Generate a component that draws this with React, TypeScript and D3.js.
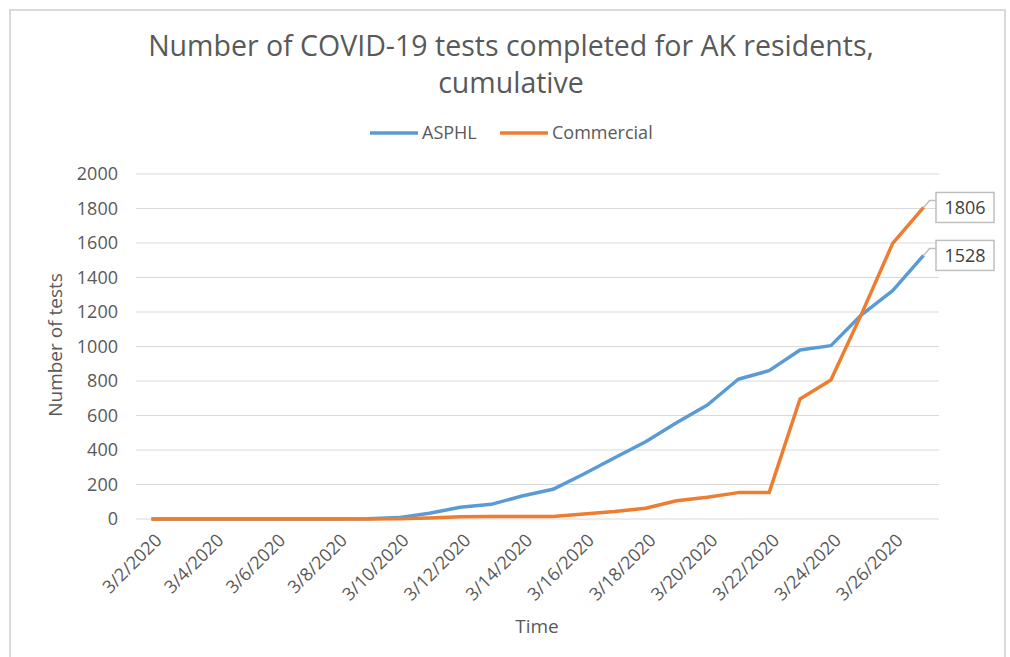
import { useEffect, useRef } from 'react';
import * as d3 from 'd3';

const dates = [
  '3/2/2020', '3/3/2020', '3/4/2020', '3/5/2020', '3/6/2020', '3/7/2020', '3/8/2020',
  '3/9/2020', '3/10/2020', '3/11/2020', '3/12/2020', '3/13/2020', '3/14/2020', '3/15/2020',
  '3/16/2020', '3/17/2020', '3/18/2020', '3/19/2020', '3/20/2020', '3/21/2020', '3/22/2020',
  '3/23/2020', '3/24/2020', '3/25/2020', '3/26/2020', '3/27/2020',
];
const asphl = [0, 0, 0, 0, 0, 0, 0, 2, 8, 33, 68, 85, 133, 172, 261, 355, 448, 558, 661, 810, 860, 980, 1005, 1185, 1324, 1528];
const commercial = [0, 0, 0, 0, 0, 0, 0, 0, 2, 6, 13, 14, 14, 15, 29, 43, 62, 106, 126, 153, 153, 696, 806, 1192, 1598, 1806];
const yTicks = [0, 200, 400, 600, 800, 1000, 1200, 1400, 1600, 1800, 2000];

const FONT = '"Open Sans", sans-serif';
const TEXT = '#595959';
const BLUE = '#5B9BD5';
const ORANGE = '#ED7D31';

export default function App() {
  const svgRef = useRef<SVGSVGElement>(null);

  useEffect(() => {
    if (!svgRef.current) return;
    const svg = d3.select(svgRef.current);
    svg.selectAll('*').remove();

    const left = 136, right = 939, top = 174, bottom = 519;

    // chart frame
    svg.append('rect')
      .attr('x', 10).attr('y', 10).attr('width', 995).attr('height', 660)
      .attr('fill', 'white').attr('stroke', '#d9d9d9').attr('stroke-width', 2);

    const x = d3.scaleBand().domain(dates).range([left, right]);
    const cx = (d: string) => (x(d) as number) + x.bandwidth() / 2;
    const y = d3.scaleLinear().domain([0, 2000]).range([bottom, top]);

    // title
    svg.append('text')
      .attr('x', 511).attr('y', 56)
      .attr('text-anchor', 'middle')
      .attr('fill', TEXT).style('font-family', FONT).style('font-size', '28.5px')
      .text('Number of COVID-19 tests completed for AK residents,');
    svg.append('text')
      .attr('x', 511).attr('y', 93)
      .attr('text-anchor', 'middle')
      .attr('fill', TEXT).style('font-family', FONT).style('font-size', '28.5px')
      .text('cumulative');

    // gridlines
    svg.append('g')
      .selectAll('line')
      .data(yTicks)
      .enter()
      .append('line')
      .attr('x1', left).attr('x2', right)
      .attr('y1', d => y(d)).attr('y2', d => y(d))
      .attr('stroke', '#d9d9d9').attr('stroke-width', 1);

    // y tick labels
    svg.append('g')
      .selectAll('text')
      .data(yTicks)
      .enter()
      .append('text')
      .attr('x', 118).attr('y', d => y(d))
      .attr('dy', '0.35em')
      .attr('text-anchor', 'end')
      .attr('fill', TEXT).style('font-family', FONT).style('font-size', '18px')
      .text(d => `${d}`);

    // x tick labels
    svg.append('g')
      .selectAll('text')
      .data(dates.filter((_, i) => i % 2 === 0))
      .enter()
      .append('text')
      .attr('transform', d => `translate(${cx(d) + 7},${bottom + 18}) rotate(-45)`)
      .attr('dy', '0.35em')
      .attr('text-anchor', 'end')
      .attr('fill', TEXT).style('font-family', FONT).style('font-size', '18px')
      .text(d => d);

    // axis titles
    svg.append('text')
      .attr('transform', `translate(62,345) rotate(-90)`)
      .attr('text-anchor', 'middle')
      .attr('fill', TEXT).style('font-family', FONT).style('font-size', '19px')
      .text('Number of tests');
    svg.append('text')
      .attr('x', 537).attr('y', 633)
      .attr('text-anchor', 'middle')
      .attr('fill', TEXT).style('font-family', FONT).style('font-size', '19px')
      .text('Time');

    // lines
    const line = d3.line<number>()
      .x((_, i) => cx(dates[i]))
      .y(d => y(d));

    svg.append('path')
      .datum(asphl)
      .attr('fill', 'none').attr('stroke', BLUE).attr('stroke-width', 3.5)
      .attr('stroke-linejoin', 'round')
      .attr('d', line);
    svg.append('path')
      .datum(commercial)
      .attr('fill', 'none').attr('stroke', ORANGE).attr('stroke-width', 3.5)
      .attr('stroke-linejoin', 'round')
      .attr('d', line);

    // end labels
    const last = dates.length - 1;
    [
      { v: commercial[last] },
      { v: asphl[last] },
    ].forEach(item => {
      const px = cx(dates[last]);
      const py = y(item.v);
      const bx = 936, by = py - 15;
      svg.append('path')
        .attr('d', `M${px},${py} L${px + 6},${py - 7} L${bx},${py - 7}`)
        .attr('fill', 'none').attr('stroke', '#bfbfbf').attr('stroke-width', 1.5);
      svg.append('rect')
        .attr('x', bx).attr('y', by).attr('width', 58).attr('height', 30)
        .attr('fill', 'white').attr('stroke', '#bfbfbf').attr('stroke-width', 1.5);
      svg.append('text')
        .attr('x', bx + 29).attr('y', by + 15)
        .attr('dy', '0.35em')
        .attr('text-anchor', 'middle')
        .attr('fill', '#404040').style('font-family', FONT).style('font-size', '18px')
        .text(`${item.v}`);
    });

    // legend
    const legend = [
      { label: 'ASPHL', color: BLUE, x: 370 },
      { label: 'Commercial', color: ORANGE, x: 500 },
    ];
    legend.forEach(item => {
      svg.append('line')
        .attr('x1', item.x).attr('x2', item.x + 48)
        .attr('y1', 133).attr('y2', 133)
        .attr('stroke', item.color).attr('stroke-width', 3.5);
      svg.append('text')
        .attr('x', item.x + 52).attr('y', 133)
        .attr('dy', '0.35em')
        .attr('fill', TEXT).style('font-family', FONT).style('font-size', '18px')
        .text(item.label);
    });
  }, []);

  return (
    <svg
      ref={svgRef}
      width={1010}
      height={657}
      style={{ position: 'absolute', left: 0, top: 0, background: 'white' }}
    />
  );
}
